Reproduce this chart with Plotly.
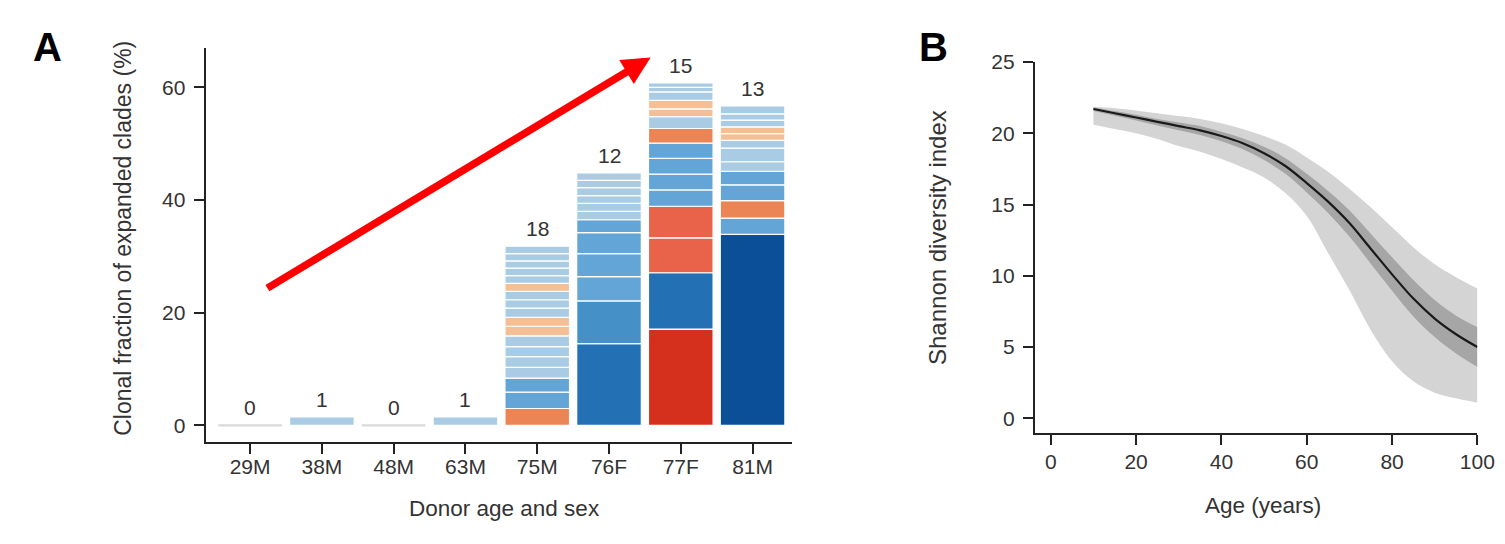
import plotly.graph_objects as go

# ---------------- Panel A data ----------------
donors = ["29M", "38M", "48M", "63M", "75M", "76F", "77F", "81M"]
clade_counts = [0, 1, 0, 1, 18, 12, 15, 13]

# clonal fraction (%) of each expanded clade, bottom to top
seg_29M = []
seg_38M = [1.5]
seg_48M = []
seg_63M = [1.5]
seg_75M = [3.0, 2.9, 2.5, 1.9, 1.9, 1.8, 1.9, 1.7, 1.6, 1.6, 1.5, 1.5, 1.4, 1.4, 1.3, 1.3, 1.3, 1.3]
seg_76F = [14.5, 7.6, 4.3, 4.1, 3.7, 2.3, 1.5, 1.4, 1.4, 1.4, 1.3, 1.3]
seg_77F = [17.1, 10.0, 6.2, 5.6, 2.9, 2.8, 2.8, 2.7, 2.6, 2.1, 1.4, 1.5, 1.5, 0.8, 0.8]
seg_81M = [33.9, 2.9, 3.1, 2.8, 2.4, 1.7, 2.4, 1.4, 1.2, 1.2, 1.2, 1.1, 1.4]

# clade colour group per segment (same order)
grp_29M = []
grp_38M = ["P"]
grp_48M = []
grp_63M = ["P"]
grp_75M = ["O", "L", "L", "P", "P", "P", "P", "E", "E", "P", "P", "P", "E", "P", "P", "P", "P", "P"]
grp_76F = ["B", "M", "L", "L", "L", "L", "P", "P", "P", "P", "P", "P"]
grp_77F = ["D", "B", "R", "R", "L", "L", "L", "L", "O", "P", "E", "E", "P", "P", "P"]
grp_81M = ["N", "L", "O", "L", "L", "P", "P", "P", "E", "E", "P", "P", "P"]

# ---------------- Panel B data ----------------
age = [10, 15, 20, 25, 30, 35, 40, 45, 50, 55, 60, 65, 70, 75, 80, 85, 90, 95, 100]
shannon_mean = [21.7, 21.4, 21.1, 20.8, 20.5, 20.2, 19.8, 19.3, 18.6, 17.7, 16.5, 15.2, 13.7, 11.9, 10.1, 8.4, 7.0, 5.9, 5.0]
inner_lo = [21.55, 21.22, 20.9, 20.55, 20.2, 19.87, 19.43, 18.88, 18.12, 17.15, 15.85, 14.4, 12.75, 10.85, 8.95, 7.15, 5.7, 4.55, 3.6]
inner_hi = [21.8, 21.55, 21.3, 21.0, 20.75, 20.5, 20.1, 19.65, 19.05, 18.25, 17.15, 15.95, 14.6, 12.95, 11.3, 9.7, 8.3, 7.2, 6.4]
outer_lo = [20.6, 20.3, 20.0, 19.6, 19.1, 18.7, 18.2, 17.6, 16.9, 15.8, 14.2, 11.6, 9.0, 6.2, 4.0, 2.6, 1.8, 1.4, 1.1]
outer_hi = [21.85, 21.75, 21.6, 21.4, 21.2, 21.0, 20.7, 20.3, 19.8, 19.2, 18.3, 17.3, 16.1, 14.8, 13.4, 12.0, 10.8, 9.9, 9.1]

# ---------------- styling ----------------
W, H = 1505, 544
FONT = "Liberation Sans, Arial, sans-serif"
TXT = "#333333"
AX = "#222222"
palette = {
    "N": "#0b4f98", "B": "#2470b4", "M": "#4590c7", "L": "#62a5d6",
    "P": "#a9cce4", "E": "#f5bf95", "O": "#ec8556", "R": "#e8634a",
    "D": "#d5301e", "G": "#d9d9d9",
}
ZERO_MARK = 0.6  # visual height of the grey marker for donors without clades


def px(x):
    return ((x - 5.2) / 0.989) / W


def py(y):
    return 1 - ((y - 20.1) / 0.977) / H


segs = [seg_29M, seg_38M, seg_48M, seg_63M, seg_75M, seg_76F, seg_77F, seg_81M]
grps = [grp_29M, grp_38M, grp_48M, grp_63M, grp_75M, grp_76F, grp_77F, grp_81M]

bx, by, bbase, bcol = [], [], [], []
totals = []
for d, s, g in zip(donors, segs, grps):
    cum = 0.0
    if len(s) == 0:
        bx.append(d); by.append(ZERO_MARK); bbase.append(-ZERO_MARK / 2); bcol.append(palette["G"])
    for v, c in zip(s, g):
        bx.append(d); by.append(v); bbase.append(cum); bcol.append(palette[c])
        cum += v
    totals.append(cum)

fig = go.Figure()
fig.add_trace(go.Bar(
    x=bx, y=by, base=bbase, width=0.9,
    marker=dict(color=bcol, line=dict(color="white", width=1.2)),
    xaxis="x", yaxis="y", showlegend=False, hoverinfo="skip",
))

# Panel B bands and line
fig.add_trace(go.Scatter(x=age, y=outer_lo, mode="lines", line=dict(width=0, shape="spline"),
                         xaxis="x2", yaxis="y2", showlegend=False, hoverinfo="skip"))
fig.add_trace(go.Scatter(x=age, y=outer_hi, mode="lines", line=dict(width=0, shape="spline"),
                         fill="tonexty", fillcolor="#d4d4d4",
                         xaxis="x2", yaxis="y2", showlegend=False, hoverinfo="skip"))
fig.add_trace(go.Scatter(x=age, y=inner_lo, mode="lines", line=dict(width=0, shape="spline"),
                         xaxis="x2", yaxis="y2", showlegend=False, hoverinfo="skip"))
fig.add_trace(go.Scatter(x=age, y=inner_hi, mode="lines", line=dict(width=0, shape="spline"),
                         fill="tonexty", fillcolor="#a6a6a6",
                         xaxis="x2", yaxis="y2", showlegend=False, hoverinfo="skip"))
fig.add_trace(go.Scatter(x=age, y=shannon_mean, mode="lines",
                         line=dict(color="#1a1a1a", width=2.2, shape="spline"),
                         xaxis="x2", yaxis="y2", showlegend=False, hoverinfo="skip"))

annotations = []
# clade counts above bars
for d, n, t in zip(donors, clade_counts, totals):
    annotations.append(dict(x=d, y=t, xref="x", yref="y", text=str(n), showarrow=False,
                            yanchor="bottom", yshift=4, font=dict(size=21, color=TXT, family=FONT)))

# red arrow
annotations.append(dict(x=5.58, y=65.3, ax=0.22, ay=24.2, xref="x", yref="y", axref="x", ayref="y",
                        text="", showarrow=True, arrowhead=2, arrowsize=0.75, arrowwidth=7.5,
                        arrowcolor="#ff0000"))

# panel letters
annotations.append(dict(x=px(45), y=py(47), xref="paper", yref="paper", text="<b>A</b>",
                        showarrow=False, xanchor="center", yanchor="middle",
                        font=dict(size=40, color="black", family=FONT)))
annotations.append(dict(x=px(932), y=py(47), xref="paper", yref="paper", text="<b>B</b>",
                        showarrow=False, xanchor="center", yanchor="middle",
                        font=dict(size=40, color="black", family=FONT)))

# axis titles
annotations.append(dict(x=px(120), y=py(238), xref="paper", yref="paper",
                        text="Clonal fraction of expanded clades (%)", textangle=-90,
                        showarrow=False, xanchor="center", yanchor="middle",
                        font=dict(size=23, color=TXT, family=FONT)))
annotations.append(dict(x=px(502), y=py(508), xref="paper", yref="paper",
                        text="Donor age and sex", showarrow=False, xanchor="center", yanchor="middle",
                        font=dict(size=22.5, color=TXT, family=FONT)))
annotations.append(dict(x=px(935), y=py(237), xref="paper", yref="paper",
                        text="Shannon diversity index", textangle=-90,
                        showarrow=False, xanchor="center", yanchor="middle",
                        font=dict(size=24, color=TXT, family=FONT)))
annotations.append(dict(x=px(1261), y=py(505), xref="paper", yref="paper",
                        text="Age (years)", showarrow=False, xanchor="center", yanchor="middle",
                        font=dict(size=22.5, color=TXT, family=FONT)))

axis_common = dict(showline=True, linecolor=AX, linewidth=2, ticks="outside", ticklen=10,
                   tickwidth=1.6, tickcolor=AX, showgrid=False, zeroline=False,
                   tickfont=dict(size=21, color=TXT, family=FONT), mirror=False)

fig.update_layout(
    width=W, height=H, margin=dict(l=0, r=0, t=0, b=0),
    paper_bgcolor="white", plot_bgcolor="white",
    barmode="overlay", bargap=0.1,
    xaxis=dict(domain=[px(203), px(790)], anchor="y", type="category",
               categoryorder="array", categoryarray=donors, range=[-0.62, 7.55],
               ticklabelstandoff=-6, **axis_common),
    yaxis=dict(domain=[py(442), py(48)], anchor="x", range=[-3.0, 67.0],
               tickvals=[0, 20, 40, 60], ticklabelstandoff=4, **axis_common),
    xaxis2=dict(domain=[px(1033), px(1476)], anchor="y2", range=[-3.75, 100],
                tickvals=[0, 20, 40, 60, 80, 100], ticklabelstandoff=-1, **axis_common),
    yaxis2=dict(domain=[py(433), py(62)], anchor="x2", range=[-1.05, 25],
                tickvals=[0, 5, 10, 15, 20, 25], ticklabelstandoff=4, **axis_common),
    annotations=annotations,
    font=dict(family=FONT, color=TXT),
)

fig.write_html("out.html")
